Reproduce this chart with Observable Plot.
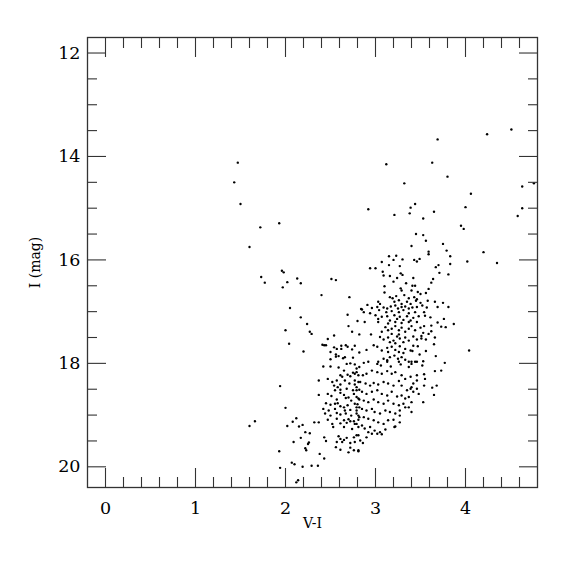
<!DOCTYPE html>
<html><head><meta charset="utf-8">
<script src="https://cdn.jsdelivr.net/npm/d3@7"></script>
<script src="https://cdn.jsdelivr.net/npm/@observablehq/plot@0.6"></script>
<style>body{margin:0;background:#fff}</style>
</head><body><div id="chart"></div>
<script>
// Tick values
const xMajor = [0, 1, 2, 3, 4];
const xMinor = [0.2,0.4,0.6,0.8,1.2,1.4,1.6,1.8,2.2,2.4,2.6,2.8,3.2,3.4,3.6,3.8,4.2,4.4,4.6];
const yMajor = [12, 14, 16, 18, 20];
const yMinor = [12.5,13,13.5,14.5,15,15.5,16.5,17,17.5,18.5,19,19.5];

// Stars: [V-I, I]
const brightStars = [[3.69,13.67],[4.51,13.48],[4.24,13.57],[3.12,14.15],[3.63,14.12],[3.80,14.39],
[3.32,14.52],[4.06,14.72],[4.63,14.58],[4.76,14.52],[3.44,14.92],[3.39,14.99],[4.00,14.98],[4.63,15.00],[3.38,15.10],[3.65,15.07],[3.21,15.13],[4.58,15.15],[3.53,15.20],[3.95,15.34],[3.98,15.40],[3.45,15.50],[3.53,15.52],[3.56,15.63],[3.75,15.69],[3.40,15.73],[3.79,15.82],[4.20,15.85],[3.59,15.84],[3.59,15.89],[3.83,15.93],[4.35,16.06],[4.02,16.03],[3.83,16.08],[3.70,16.10],[3.67,16.14],[3.49,15.98],[3.46,16.03],[3.43,16.00],[3.15,15.93],[3.23,15.92],[3.20,16.00],[3.30,15.99],[3.07,16.04],[2.94,16.16],[3.00,16.16],[3.15,16.10],[3.27,16.12],[3.08,16.23],[3.09,16.30],[3.16,16.31],[3.28,16.26],[3.30,16.29],[3.71,16.25],[3.81,16.28]];

const blueStars = [[1.47,14.12],[1.43,14.50],[1.50,14.92],[2.92,15.02],[1.93,15.29],[1.72,15.37],[1.60,15.75],[1.96,16.21],[1.98,16.24],[1.73,16.33],[1.77,16.44],[2.13,16.36],[2.17,16.45],[2.02,16.43],[1.97,16.53],[2.51,16.37],[2.56,16.39],[2.40,16.68],[2.71,16.72],[2.05,16.93],[2.84,16.95],[2.96,16.93],
[2.17,17.11],[2.24,17.24],[2.27,17.39],[2.29,17.43],[2.00,17.36],[2.04,17.62],[2.20,17.77],[2.47,17.53],[2.54,17.46],[2.69,17.06],[2.80,17.18],[2.70,17.28],[2.74,17.39],[2.82,17.44],[2.41,17.64],[2.43,17.65],[2.45,17.65],[2.50,17.78],[2.54,17.69],[2.57,17.72],[2.62,17.66],[2.62,17.72],[2.67,17.65],[2.69,17.68],[2.77,17.66],[2.74,17.73],[2.82,17.79],[2.50,17.92],[2.56,17.83],[2.56,17.87],[2.59,17.86],[2.64,17.90],[2.66,17.88],[2.75,17.89],
[1.94,18.44],[2.37,18.33],[2.37,18.61],[2.00,18.86],[1.66,19.12],[1.60,19.21],[2.02,19.21],[2.08,19.13],[2.12,19.06],[2.15,19.22],[2.19,19.19],[2.22,19.33],[2.27,19.35],[2.17,19.44],[2.26,19.53],[2.25,19.56],[2.09,19.52],[2.22,19.64],[2.23,19.68],[1.93,19.70],[2.32,19.14],[2.37,19.14],[2.43,19.43],[2.45,19.50],[2.38,19.75],[2.43,19.84],[2.07,19.92],[2.10,19.95],[2.19,20.00],[2.29,19.98],[2.36,19.98],[1.94,20.02],[2.12,20.30],[2.14,20.26]];

const giantsLowerLeft = [[2.42,18.06],[2.50,18.06],[2.59,18.08],[2.68,18.01],[2.72,18.00],[2.77,18.02],[2.65,18.14],[2.75,18.18],[2.79,18.10],[2.61,18.23],[2.63,18.26],[2.69,18.22],[2.72,18.25],[2.77,18.20],[2.81,18.23],[2.47,18.30],[2.57,18.33],[2.66,18.33],[2.52,18.36],[2.81,18.36],[2.54,18.43],[2.58,18.46],[2.61,18.41],[2.71,18.39],[2.77,18.41],[2.79,18.46],[2.55,18.52],[2.61,18.51],[2.68,18.49],[2.75,18.52],[2.82,18.51],[2.47,18.59],[2.51,18.63],[2.61,18.57],[2.65,18.61],[2.67,18.67],[2.70,18.66],[2.76,18.59],[2.79,18.65],[2.82,18.70],[2.57,18.70],[2.73,18.72],[2.45,18.77],[2.50,18.80],[2.55,18.78],[2.58,18.77],[2.61,18.83],[2.65,18.85],[2.69,18.81],[2.77,18.78],[2.80,18.79],[2.42,18.88],[2.48,18.91],[2.55,18.88],[2.66,18.91],[2.72,18.90],[2.79,18.91],[2.82,18.85],[2.44,18.97],[2.50,19.01],[2.57,18.96],[2.61,18.99],[2.67,18.97],[2.73,19.01],[2.79,18.97],[2.82,19.04],[2.47,19.09],[2.57,19.07],[2.65,19.10],[2.70,19.08],[2.76,19.12],[2.81,19.09],[2.52,19.17],[2.61,19.16],[2.68,19.15],[2.72,19.12],[2.77,19.17],[2.53,19.23],[2.65,19.23],[2.74,19.27],[2.81,19.23],[2.59,19.41],[2.61,19.46],[2.65,19.48],[2.68,19.44],[2.76,19.43],[2.81,19.39],[2.57,19.52],[2.63,19.52],[2.72,19.54],[2.77,19.52],[2.56,19.62],[2.61,19.67],[2.72,19.63],[2.76,19.68],[2.70,19.72],[2.81,19.68]];

const giantsLowerRight = [[2.87,17.99],[3.02,18.01],[3.06,18.04],[3.13,17.97],[3.17,18.06],[3.26,17.97],[3.28,18.02],[3.37,18.07],[3.40,18.01],[3.44,17.97],[3.52,18.04],[3.77,17.99],[2.82,18.07],[2.79,18.17],[2.86,18.23],[2.90,18.20],[2.96,18.14],[3.02,18.17],[3.07,18.20],[3.13,18.15],[3.18,18.20],[3.22,18.17],[3.29,18.23],[3.33,18.30],[3.39,18.26],[3.46,18.23],[3.54,18.21],[3.66,18.15],[3.73,18.14],[3.55,18.30],[3.54,18.43],[3.46,18.33],[3.42,18.39],[3.40,18.46],[3.68,18.43],[3.63,18.47],[3.48,18.59],[3.53,18.75],[3.65,18.61],
[2.77,18.33],[2.83,18.36],[2.89,18.39],[2.94,18.43],[2.98,18.38],[3.03,18.41],[3.09,18.36],[3.14,18.39],[3.20,18.43],[3.26,18.34],[3.29,18.43],[3.35,18.52],[3.39,18.49],[3.42,18.55],[3.46,18.49],
[2.79,18.52],[2.85,18.55],[2.90,18.59],[2.96,18.55],[3.02,18.52],[3.07,18.59],[3.13,18.62],[3.18,18.55],[3.24,18.64],[3.29,18.62],[3.33,18.68],[3.37,18.65],[3.40,18.75],
[2.81,18.68],[2.87,18.72],[2.92,18.75],[2.98,18.70],[3.03,18.75],[3.09,18.78],[3.14,18.72],[3.20,18.78],[3.26,18.81],[3.31,18.78],[3.37,18.85],[3.40,18.94],
[2.79,18.85],[2.85,18.88],[2.90,18.91],[2.96,18.88],[2.99,18.94],[3.05,18.97],[3.11,18.91],[3.16,18.94],[3.22,18.97],[3.27,18.91],[3.33,18.85],[3.27,19.01],
[2.81,19.01],[2.87,19.04],[2.92,19.07],[2.98,19.10],[3.03,19.14],[3.09,19.17],[3.14,19.10],[3.20,19.09],[3.22,19.22],[3.21,19.23],[3.27,19.14],
[2.79,19.17],[2.85,19.20],[2.88,19.26],[2.94,19.23],[2.99,19.30],[3.05,19.33],[3.11,19.28],[3.07,19.37],[3.02,19.36],
[2.79,19.39],[2.83,19.49],[2.86,19.54],[2.90,19.43],[2.92,19.33],[2.96,19.36],[2.81,19.70]];

const giantsUpper = [[3.24,16.35],[3.42,16.35],[3.64,16.37],[3.62,16.44],[3.34,16.45],[3.20,16.42],[3.10,16.51],[3.41,16.50],[3.44,16.50],[3.59,16.56],[3.28,16.55],[3.29,16.59],[3.40,16.59],[3.47,16.62],[3.10,16.63],[3.56,16.64],[3.50,16.66],[3.23,16.70],[3.16,16.72],[3.19,16.74],[3.32,16.68],[3.37,16.74],[3.43,16.72],[3.45,16.79],[3.46,16.76],[3.58,16.79],[3.66,16.81],[3.75,16.83],[3.03,16.81],[3.05,16.85],[3.21,16.81],[3.26,16.78],[3.29,16.85],[3.35,16.81],[3.39,16.85],[3.50,16.83],
[2.91,16.87],[2.85,16.96],[2.87,17.01],[2.94,17.03],[3.02,16.91],[3.04,16.97],[3.09,16.92],[3.13,16.94],[3.17,16.90],[3.22,16.88],[3.25,16.94],[3.29,16.91],[3.33,16.90],[3.37,16.94],[3.41,16.92],[3.46,16.91],[3.52,16.88],[3.57,16.92],[3.69,16.91],[3.81,16.91],[3.18,16.99],[3.26,17.01],[3.31,16.97],[3.37,17.03],[3.44,17.01],[3.54,17.01],[3.12,17.01],
[2.88,17.20],[3.00,17.07],[3.03,17.14],[3.07,17.10],[3.13,17.09],[3.16,17.17],[3.21,17.07],[3.24,17.14],[3.27,17.10],[3.31,17.16],[3.35,17.09],[3.39,17.17],[3.42,17.12],[3.48,17.09],[3.55,17.08],[3.61,17.11],[3.22,17.20],[3.29,17.22],[3.37,17.20],[3.46,17.20],[3.69,17.21],[3.76,17.14],[3.87,17.24],[3.03,17.20],[3.14,17.23],
[2.95,17.44],[3.07,17.39],[3.11,17.30],[3.14,17.36],[3.18,17.33],[3.22,17.28],[3.26,17.36],[3.29,17.31],[3.33,17.39],[3.37,17.33],[3.40,17.28],[3.44,17.36],[3.50,17.31],[3.54,17.28],[3.62,17.27],[3.73,17.29],[3.78,17.30],[3.59,17.43],[3.62,17.38],[3.53,17.41],[3.18,17.43],[3.26,17.44],
[2.98,17.65],[3.05,17.49],[3.09,17.54],[3.14,17.50],[3.20,17.56],[3.24,17.48],[3.27,17.52],[3.33,17.50],[3.37,17.56],[3.42,17.48],[3.46,17.54],[3.51,17.47],[3.51,17.52],[3.56,17.54],[3.66,17.50],[3.65,17.63],[3.22,17.61],[3.31,17.59],[3.16,17.59],[4.04,17.75],
[2.90,17.74],[3.02,17.68],[3.07,17.75],[3.13,17.70],[3.18,17.68],[3.22,17.74],[3.27,17.67],[3.33,17.72],[3.39,17.75],[3.42,17.66],[3.47,17.67],[3.41,17.76],[3.49,17.83],[3.56,17.76],[3.14,17.78],[3.26,17.78],[3.31,17.80],
[2.92,17.97],[3.03,17.97],[3.09,17.91],[3.13,17.94],[3.16,17.88],[3.21,17.85],[3.25,17.91],[3.29,17.88],[3.33,17.93],[3.37,17.97],[3.40,17.97],[3.46,17.97],[3.53,17.96],[3.67,17.86]];

const stars = [...brightStars, ...blueStars, ...giantsLowerLeft, ...giantsLowerRight, ...giantsUpper]
  .map(([vi, imag]) => ({vi, imag}));

const ink = "#333";
const tickOnly = (axis, values, anchor, size) =>
  axis(values, {anchor, tickSize: size, fill: "none", stroke: ink, strokeWidth: 1.1, label: null});

const chart = Plot.plot({
  width: 575, height: 575,
  marginLeft: 87, marginRight: 38, marginTop: 37, marginBottom: 88,
  style: {fontFamily: "DejaVu Serif", background: "#fff", color: "#000"},
  x: {domain: [-0.2, 4.8]},
  y: {domain: [11.7, 20.4], reverse: true},
  marks: [
    Plot.dot(stars, {x: "vi", y: "imag", r: 1.2, fill: "#000", stroke: "none"}),
    tickOnly(Plot.axisX, xMajor, "bottom", -19),
    tickOnly(Plot.axisX, xMinor, "bottom", -10),
    tickOnly(Plot.axisX, xMajor, "top", -19),
    tickOnly(Plot.axisX, xMinor, "top", -10),
    tickOnly(Plot.axisY, yMajor, "left", -19),
    tickOnly(Plot.axisY, yMinor, "left", -10),
    tickOnly(Plot.axisY, yMajor, "right", -19),
    tickOnly(Plot.axisY, yMinor, "right", -10),
    Plot.axisX(xMajor, {anchor: "bottom", tickSize: 0, tickPadding: 14, fontSize: 17.5, fill: "#000", tickFormat: d => String(d), label: null}),
    Plot.axisY(yMajor, {anchor: "left", tickSize: 0, tickPadding: 7, fontSize: 17.5, fill: "#000", tickFormat: d => String(d), label: null}),
    Plot.frame({stroke: ink, strokeWidth: 1.3}),
    Plot.text(["V-I"], {text: d => d, frameAnchor: "bottom", lineAnchor: "middle", textAnchor: "middle", dy: 36, fontSize: 14, fill: "#000"}),
    Plot.text(["I (mag)"], {text: d => d, frameAnchor: "left", lineAnchor: "middle", textAnchor: "middle", dx: -52, rotate: -90, fontSize: 14, fill: "#000"})
  ]
});
document.getElementById("chart").appendChild(chart);
</script>
</body></html>
